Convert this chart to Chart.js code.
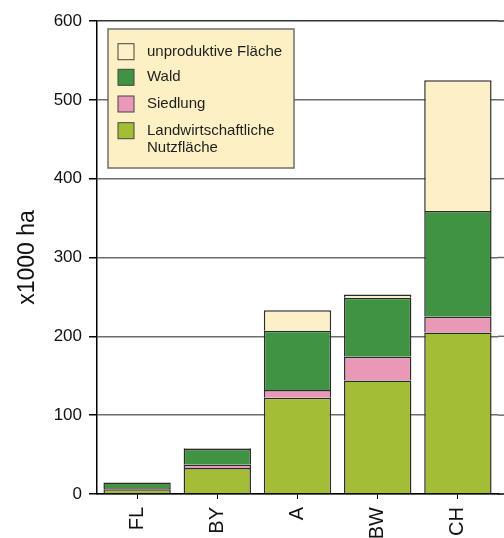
<!DOCTYPE html>
<html>
<head>
<meta charset="utf-8">
<script src="https://cdn.jsdelivr.net/npm/chart.js@4"></script>
<style>
    body { margin: 0; background: #fff; overflow: hidden; }
    #wrap { width: 504px; height: 538px; position: relative; }
</style>
</head>
<body>
<div id="wrap"><canvas id="landChart"></canvas></div>
<script>
// data (x1000 ha)
const categories = ['FL', 'BY', 'A', 'BW', 'CH'];
const landwirtschaft = [6, 33, 122, 144, 205];
const siedlung = [1.5, 4, 10, 30, 20];
const wald = [7, 20, 75, 75, 134];
const unproduktiv = [0.5, 1, 26, 4, 166];
const yTicks = [0, 100, 200, 300, 400, 500, 600];

const FONT = "'Liberation Sans', Arial, sans-serif";
const GRID = '#6c6c6c';

// legend box drawn inside the plot, top to bottom = reverse stacking order
const legendBox = {
    id: 'legendBox',
    afterDatasetsDraw(chart) {
        const ctx = chart.ctx;
        ctx.save();
        ctx.fillStyle = '#fdf0c4';
        ctx.fillRect(108, 29, 186, 139);
        ctx.strokeStyle = '#6e6e6e';
        ctx.lineWidth = 1.5;
        ctx.strokeRect(108, 29, 186, 139);

        const rows = [51.7, 77.3, 104, 130.7];
        const sets = chart.data.datasets.slice().reverse();
        ctx.font = '15px ' + FONT;
        ctx.textBaseline = 'middle';
        sets.forEach((ds, i) => {
            const y = rows[i];
            ctx.fillStyle = ds.backgroundColor;
            ctx.fillRect(118, y - 8, 16, 16);
            ctx.strokeStyle = '#444';
            ctx.lineWidth = 1;
            ctx.strokeRect(118, y - 8, 16, 16);
            ctx.fillStyle = '#1e1e1e';
            const lines = Array.isArray(ds.legendText) ? ds.legendText : [ds.legendText];
            lines.forEach((t, j) => ctx.fillText(t, 147, y + j * 17));
        });
        ctx.restore();
    }
};

// the grid runs on past the last bar to the right edge of the picture
const gridRunOn = {
    id: 'gridRunOn',
    beforeDatasetsDraw(chart) {
        const ctx = chart.ctx;
        const a = chart.chartArea;
        const y = chart.scales.y;
        ctx.save();
        yTicks.forEach(v => {
            const py = y.getPixelForValue(v);
            ctx.beginPath();
            ctx.strokeStyle = v === 0 ? '#000' : (v === 600 ? '#333' : GRID);
            ctx.lineWidth = 1.5;
            ctx.moveTo(a.right, py);
            ctx.lineTo(chart.width, py);
            ctx.stroke();
        });
        ctx.restore();
    }
};

new Chart(document.getElementById('landChart'), {
    type: 'bar',
    data: {
        labels: categories,
        datasets: [
            { label: 'Landwirtschaftliche Nutzfläche', legendText: ['Landwirtschaftliche', 'Nutzfläche'], data: landwirtschaft, backgroundColor: '#a4bd36' },
            { label: 'Siedlung', legendText: 'Siedlung', data: siedlung, backgroundColor: '#ea98b8' },
            { label: 'Wald', legendText: 'Wald', data: wald, backgroundColor: '#409342' },
            { label: 'unproduktive Fläche', legendText: 'unproduktive Fläche', data: unproduktiv, backgroundColor: '#fdf0c6' }
        ].map(ds => Object.assign(ds, {
            borderColor: '#2b2b2b',
            borderWidth: 1.5,
            barPercentage: 0.84,
            categoryPercentage: 1
        }))
    },
    options: {
        responsive: true,
        maintainAspectRatio: false,
        animation: false,
        layout: { padding: { top: 21, right: 6, left: 0, bottom: 0 } },
        plugins: {
            legend: { display: false },
            tooltip: { enabled: false }
        },
        scales: {
            x: {
                stacked: true,
                afterFit: s => { s.height = 44; },
                grid: { drawOnChartArea: false, offset: false, tickLength: 5, color: '#000' },
                border: { color: '#000', width: 1.5 },
                ticks: {
                    color: '#111', padding: 8, maxRotation: 90, minRotation: 90, autoSkip: false,
                    font: { family: FONT, size: 20 }
                }
            },
            y: {
                stacked: true,
                min: 0,
                max: 600,
                afterFit: s => { s.width = 97; },
                afterBuildTicks: s => { s.ticks = yTicks.map(v => ({ value: v })); },
                grid: {
                    color: c => c.tick && c.tick.value === 600 ? '#333' : GRID,
                    lineWidth: 1.5,
                    tickColor: '#000',
                    tickLength: 8
                },
                border: { color: '#000', width: 1.5 },
                ticks: { color: '#111', padding: 7, font: { family: FONT, size: 17 } },
                title: {
                    display: true,
                    text: 'x1000 ha',
                    color: '#111',
                    font: { family: FONT, size: 23 },
                    padding: { top: 14, bottom: 0 }
                }
            }
        }
    },
    plugins: [gridRunOn, legendBox]
});
</script>
</body>
</html>
